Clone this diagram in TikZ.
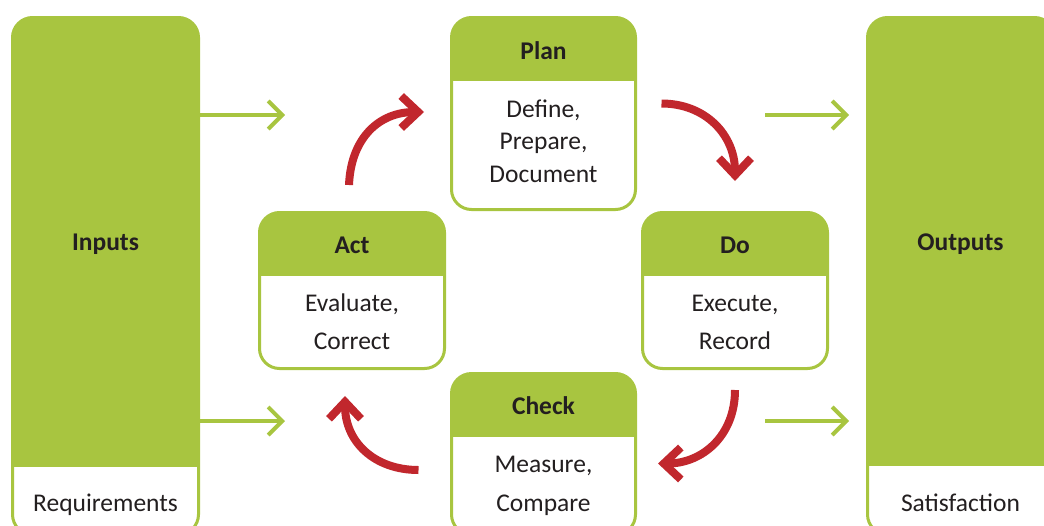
\documentclass[tikz,border=0pt]{standalone}
\usepackage{fontspec}
\setmainfont{Carlito}
\usetikzlibrary{arrows.meta}
\definecolor{pdcagreen}{RGB}{168,197,64}
\definecolor{pdcared}{RGB}{193,39,45}
\definecolor{inktext}{RGB}{35,31,32}

\begin{document}
\begin{tikzpicture}[x=1pt,y=-1pt,
  panel/.style={rectangle, draw=pdcagreen, line width=3pt, fill=white,
    rounded corners=20pt, inner sep=0pt},
  headband/.style={path picture={\fill[pdcagreen, sharp corners]
    (path picture bounding box.north west) rectangle
    ([yshift=-#1]path picture bounding box.north east);}},
  title/.style={font=\bfseries\fontsize{25.5}{30}\selectfont, text=inktext,
    anchor=base, inner sep=0pt},
  body/.style={font=\fontsize{25.5}{30}\selectfont, text=inktext,
    anchor=base, inner sep=0pt},
  flow/.style={draw=pdcagreen, line width=4pt,
    -{Straight Barb[sharp, length=14pt, width=28pt]}},
  cycle/.style={draw=pdcared, line width=8pt,
    -{Straight Barb[sharp, length=17pt, width=32pt]}}
]
\clip (0,0) rectangle (1044,525);

% side panels
\node[panel, headband=449.5pt, minimum width=186pt, minimum height=517pt]
  (inputs) at (105.5,276) {};
\node[panel, headband=448.5pt, minimum width=187pt, minimum height=517pt]
  (outputs) at (961,276) {};

% PDCA panels
\node[panel, headband=63.5pt, minimum width=184pt, minimum height=192pt]
  (plan) at (543.5,113.5) {};
\node[panel, headband=63.5pt, minimum width=185pt, minimum height=156pt]
  (act) at (352,290.5) {};
\node[panel, headband=63.5pt, minimum width=185pt, minimum height=156pt]
  (do) at (735,290.5) {};
\node[panel, headband=63.5pt, minimum width=184pt, minimum height=161pt]
  (check) at (543.5,454) {};

% labels
\node[title] (inputs-t) at (105.5,250) {Inputs};
\node[body]  (inputs-b) at (105.5,511) {Requirements};
\node[title] (outputs-t) at (960.5,250) {Outputs};
\node[body]  (outputs-b) at (960.5,511) {Satisfaction};

\node[title] (plan-t) at (543.5,59) {Plan};
\node[body]  (plan-b1) at (543.5,117) {Define,};
\node[body]  (plan-b2) at (543.5,149.5) {Prepare,};
\node[body]  (plan-b3) at (543.5,182) {Document};

\node[title] (act-t) at (352,253) {Act};
\node[body]  (act-b1) at (352,311) {Evaluate,};
\node[body]  (act-b2) at (352,349) {Correct};

\node[title] (do-t) at (735,253) {Do};
\node[body]  (do-b1) at (735,311) {Execute,};
\node[body]  (do-b2) at (735,349) {Record};

\node[title] (check-t) at (543.5,414) {Check};
\node[body]  (check-b1) at (543.5,472) {Measure,};
\node[body]  (check-b2) at (543.5,511) {Compare};

% green flows in and out
\coordinate (inA) at (285,115);
\coordinate (inB) at (285,421);
\coordinate (outA) at (765,115);
\coordinate (outB) at (765,421);
\draw[flow] (inputs.east |- inA) -- (inA);
\draw[flow] (inputs.east |- inB) -- (inB);
\draw[flow, shorten >=17pt] (outA) -- (outputs.west |- outA);
\draw[flow, shorten >=17pt] (outB) -- (outputs.west |- outB);

% PDCA cycle
\draw[cycle] ([xshift=-3pt,yshift=26pt]act.north)
  .. controls +(2,-48) and +(-44,0) .. ([xshift=-26pt,yshift=1.5pt]plan.west);
\draw[cycle] ([xshift=24.5pt,yshift=10pt]plan.east)
  .. controls +(44,0) and +(0,-46) .. ([yshift=30pt]do.north);
\draw[cycle] ([yshift=-20pt]do.south)
  .. controls +(0,46) and +(44,0) .. ([xshift=21pt,yshift=-9.5pt]check.east);
\draw[cycle] ([xshift=-31.5pt,yshift=-16pt]check.west)
  .. controls +(-44,0) and +(0,46) .. ([xshift=-7pt,yshift=-26pt]act.south);
\end{tikzpicture}
\end{document}
